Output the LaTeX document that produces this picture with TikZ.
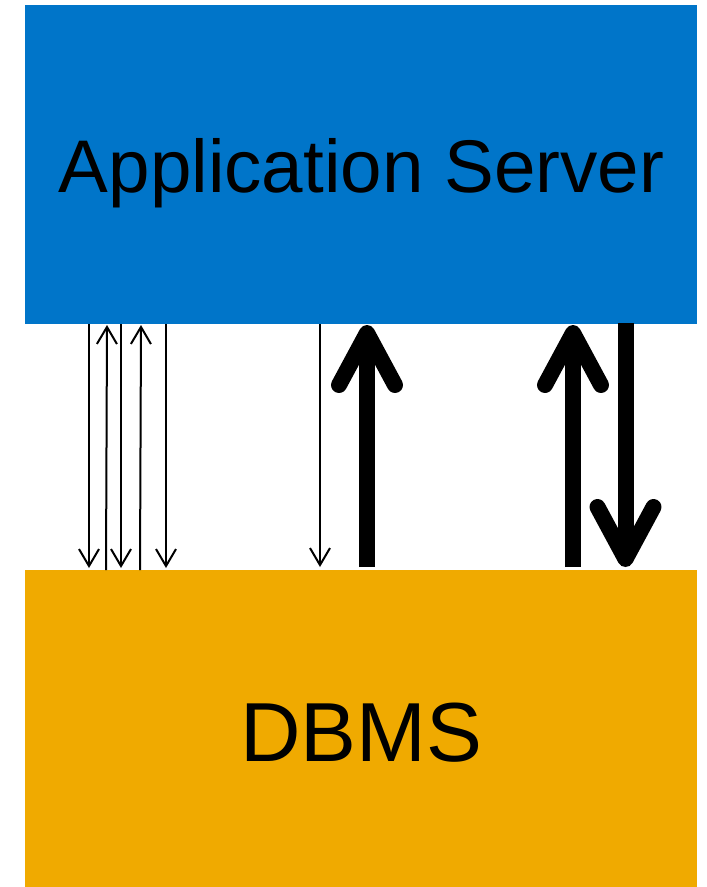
\documentclass[tikz,border=0pt]{standalone}
\usepackage{fontspec}
\setmainfont{Liberation Sans}
\usetikzlibrary{arrows.meta}
\definecolor{appblue}{RGB}{0,117,201}
\definecolor{dbmsorange}{RGB}{240,170,0}
\tikzset{
  tier/.style={draw=none, minimum width=672pt, inner sep=0pt, outer sep=0pt, anchor=north west},
  thinflow/.style={line width=2pt, -{Straight Barb[length=17pt, width=20pt]}},
  thickflow/.style={line width=16pt, -{Straight Barb[length=52pt, width=56pt, round]}},
}
\begin{document}
\begin{tikzpicture}[x=1pt, y=-1pt]
  \useasboundingbox (0,0) rectangle (707,887);
  % the two tiers
  \node[tier, fill=appblue, minimum height=319pt] (app) at (25,5) {};
  \node[tier, fill=dbmsorange, minimum height=317pt] (db) at (25,570) {};
  \node[anchor=base, font=\fontsize{74.6}{80}\selectfont] (applbl) at (361.5,192.7) {Application Server};
  \node[anchor=base, font=\fontsize{83.8}{90}\selectfont] (dblbl) at (361.5,761.7) {DBMS};

  % end points of the many small round trips
  \coordinate (a1) at (89,324);   \coordinate (b1) at (89,568);
  \coordinate (a2) at (107,325);  \coordinate (b2) at (106,570);
  \coordinate (a3) at (121,324);  \coordinate (b3) at (121,568);
  \coordinate (a4) at (141,325);  \coordinate (b4) at (140,570);
  \coordinate (a5) at (166,324);  \coordinate (b5) at (166,568);
  \coordinate (a6) at (320,324);  \coordinate (b6) at (320,567);
  % end points of the bulk transfers
  \coordinate (a7) at (367,325);  \coordinate (b7) at (367,567);
  \coordinate (a8) at (573,325);  \coordinate (b8) at (573,567);
  \coordinate (a9) at (625.5,323);\coordinate (b9) at (625.5,567);

  \draw[thinflow] (a1) -- (b1);
  \draw[thinflow] (b2) -- (a2);
  \draw[thinflow] (a3) -- (b3);
  \draw[thinflow] (b4) -- (a4);
  \draw[thinflow] (a5) -- (b5);
  \draw[thinflow] (a6) -- (b6);

  \draw[thickflow] (b7) -- (a7);
  \draw[thickflow] (b8) -- (a8);
  \draw[thickflow] (a9) -- (b9);
\end{tikzpicture}
\end{document}
